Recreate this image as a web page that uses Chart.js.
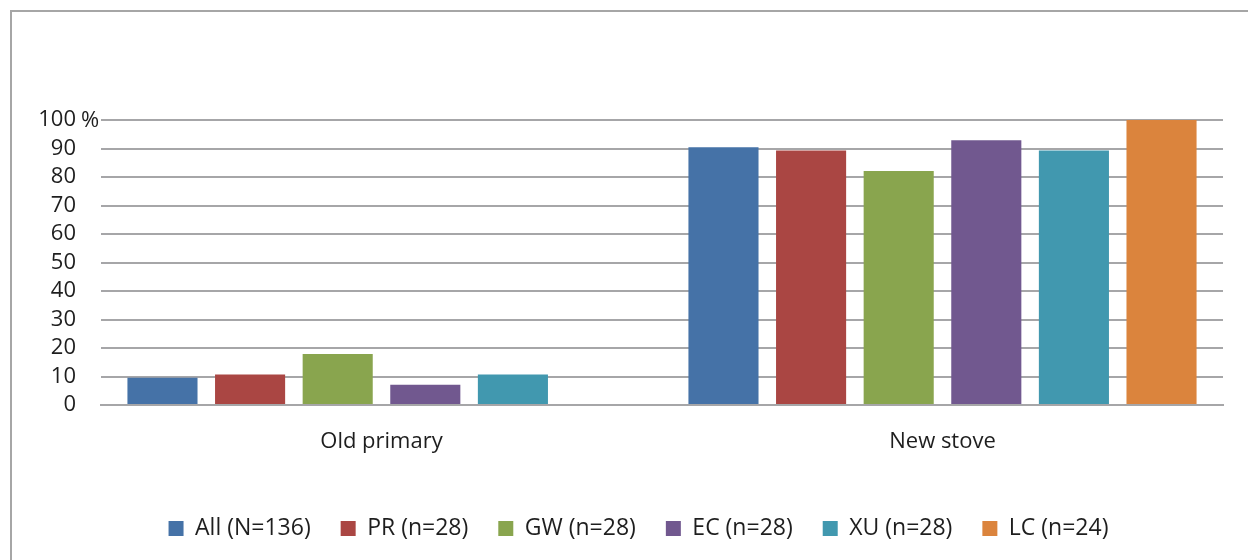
<!DOCTYPE html>
<html>
<head>
<meta charset="utf-8">
<script src="https://cdn.jsdelivr.net/npm/chart.js@4.4.1/dist/chart.umd.min.js"></script>
<style>
    html, body { margin: 0; padding: 0; background: #ffffff; }
    body { width: 1248px; height: 560px; position: relative; overflow: hidden; }
    .frame {
        position: absolute; left: 10px; top: 10px; width: 1400px; height: 700px;
        border-left: 2px solid #a6a6a6; border-top: 2px solid #a6a6a6;
    }
    #wrap { position: absolute; left: 0; top: 0; width: 1248px; height: 560px; }
</style>
</head>
<body>
<div class="frame"></div>
<div id="wrap"><canvas id="stove-chart"></canvas></div>
<script>
    const categories = ['Old primary', 'New stove'];
    const seriesNames = ['All (N=136)', 'PR (n=28)', 'GW (n=28)', 'EC (n=28)', 'XU (n=28)', 'LC (n=24)'];
    const seriesColors = ['#4572a7', '#aa4643', '#89a54e', '#71588f', '#4198af', '#db843d'];
    const allValues = [9.6, 90.4];
    const prValues = [10.7, 89.3];
    const gwValues = [17.9, 82.1];
    const ecValues = [7.1, 92.9];
    const xuValues = [10.7, 89.3];
    const lcValues = [0, 100];
    const yTicks = [0, 10, 20, 30, 40, 50, 60, 70, 80, 90, 100];

    const seriesValues = [allValues, prValues, gwValues, ecValues, xuValues, lcValues];
    const fontFamily = '"Open Sans", "DejaVu Sans", sans-serif';
    const font = { family: fontFamily, size: 22 };

    // puts the "%" after the top tick label, the way the original does
    const percentSign = {
        id: 'percentSign',
        afterLayout(chart) {
            // legend sits a little right of the canvas centre in the original
            chart.legend.left += 54;
        },
        afterDraw(chart) {
            const y = chart.scales.y;
            const ctx = chart.ctx;
            ctx.save();
            ctx.font = '22px ' + fontFamily;
            ctx.fillStyle = '#1e1e1e';
            ctx.textAlign = 'left';
            ctx.textBaseline = 'middle';
            ctx.fillText('%', y.right - 20, y.getPixelForValue(100) + 1);
            ctx.restore();
        }
    };

    new Chart(document.getElementById('stove-chart'), {
        type: 'bar',
        data: {
            labels: categories,
            datasets: seriesNames.map((name, i) => ({
                label: name,
                data: seriesValues[i],
                backgroundColor: seriesColors[i],
                borderWidth: 0,
                categoryPercentage: 0.937,
                barPercentage: 0.8
            }))
        },
        options: {
            responsive: true,
            maintainAspectRatio: false,
            animation: false,
            layout: { padding: { top: 120, right: 25, bottom: 10, left: 0 } },
            plugins: {
                tooltip: { enabled: false },
                legend: {
                    position: 'bottom',
                    labels: {
                        color: '#1e1e1e',
                        font: { family: fontFamily, size: 23 },
                        boxWidth: 15,
                        boxHeight: 15,
                        padding: 30
                    }
                }
            },
            scales: {
                x: {
                    grid: { display: false },
                    border: { display: true, color: '#a6a6a8', width: 2 },
                    ticks: { color: '#1e1e1e', font: font, padding: 16 },
                    afterFit(scale) { scale.height = 82; }
                },
                y: {
                    min: 0,
                    max: 100,
                    afterBuildTicks(scale) { scale.ticks = yTicks.map(v => ({ value: v })); },
                    afterFit(scale) { scale.width = 101; },
                    grid: { color: '#a6a6a8', lineWidth: 2, drawTicks: false },
                    border: { display: false },
                    ticks: { color: '#1e1e1e', font: font, padding: 25, autoSkip: false }
                }
            }
        },
        plugins: [percentSign]
    });
</script>
</body>
</html>
